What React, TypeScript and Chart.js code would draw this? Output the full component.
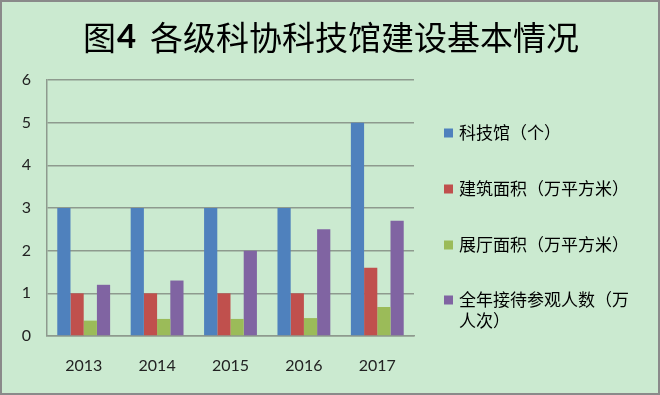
import React, { useEffect, useRef } from "react";
import { Chart, registerables } from "chart.js";

Chart.register(...registerables);

const TITLE_PARTS = ["图", "4", "各级科协科技馆建设基本情况"];
const YEARS = ["2013", "2014", "2015", "2016", "2017"];
const SERIES_NAMES = [
  "科技馆（个）",
  "建筑面积（万平方米）",
  "展厅面积（万平方米）",
  "全年接待参观人数（万人次）",
];
const LEGEND_LINES = [
  ["科技馆（个）"],
  ["建筑面积（万平方米）"],
  ["展厅面积（万平方米）"],
  ["全年接待参观人数（万", "人次）"],
];
const MUSEUMS = [3, 3, 3, 3, 5];
const BUILDING_AREA = [1, 1, 1, 1, 1.6];
const HALL_AREA = [0.36, 0.4, 0.4, 0.42, 0.68];
const VISITORS = [1.2, 1.3, 2, 2.5, 2.7];
const Y_TICKS = [0, 1, 2, 3, 4, 5, 6];
const COLORS = ["#4f81bd", "#c0504d", "#9bbb59", "#8064a2"];

const BG = "#cbead0";
const CJK = '"Noto Sans CJK SC", "Noto Sans", sans-serif';
const LATIN = 'Lato, "Open Sans", sans-serif';

const framePlugin = {
  id: "frame",
  beforeDraw(chart: any) {
    const ctx = chart.ctx;
    ctx.save();
    ctx.fillStyle = BG;
    ctx.fillRect(0, 0, chart.width, chart.height);
    ctx.strokeStyle = "#8a8a8a";
    ctx.lineWidth = 2;
    ctx.strokeRect(1, 1, chart.width - 2, chart.height - 2);
    ctx.restore();
  },
  afterDraw(chart: any) {
    const ctx = chart.ctx;
    ctx.save();
    // title, with a bold "4" and a word gap after it
    const fonts = [`33px ${CJK}`, `bold 33px ${LATIN}`, `33px ${CJK}`];
    const gaps = [1, 14, 0];
    const widths = TITLE_PARTS.map((t, i) => {
      ctx.font = fonts[i];
      return ctx.measureText(t).width + gaps[i];
    });
    const total = widths.reduce((a, b) => a + b, 0);
    let x = 331 - total / 2;
    ctx.fillStyle = "#000";
    ctx.textAlign = "left";
    ctx.textBaseline = "middle";
    TITLE_PARTS.forEach((t, i) => {
      ctx.font = fonts[i];
      ctx.fillText(t, x, 37);
      x += widths[i];
    });
    // legend
    const rows = [133, 189, 245, 300];
    ctx.font = `17px ${CJK}`;
    chart.data.datasets.forEach((ds: any, i: number) => {
      const y = rows[i];
      ctx.fillStyle = ds.backgroundColor;
      ctx.fillRect(444, y - 4.5, 9, 9);
      ctx.fillStyle = "#000";
      LEGEND_LINES[i].forEach((line, j) => {
        ctx.fillText(line, 459, y + j * 21);
      });
    });
    ctx.restore();
  },
};

export default function App() {
  const ref = useRef<HTMLCanvasElement | null>(null);
  useEffect(() => {
    document.body.style.margin = "0";
    const chart = new Chart(ref.current!, {
      type: "bar",
      data: {
        labels: YEARS,
        datasets: [MUSEUMS, BUILDING_AREA, HALL_AREA, VISITORS].map((d, i) => ({
          label: SERIES_NAMES[i],
          data: d,
          backgroundColor: COLORS[i],
          borderWidth: 0,
          categoryPercentage: 0.72,
          barPercentage: 1,
        })),
      },
      options: {
        animation: false,
        responsive: false,
        maintainAspectRatio: false,
        layout: { padding: { top: 80, right: 246, left: 0, bottom: 0 } },
        plugins: {
          legend: { display: false },
          title: { display: false },
          tooltip: { enabled: false },
        },
        scales: {
          x: {
            grid: { display: false, drawTicks: false },
            border: { display: true, color: "#8e9a8e", width: 1.5 },
            ticks: {
              color: "#222",
              font: { family: LATIN, size: 16 },
              padding: 20,
            },
            afterFit: (s: any) => {
              s.height = 59;
            },
          },
          y: {
            min: 0,
            max: 6,
            afterBuildTicks: (s: any) => {
              s.ticks = Y_TICKS.map((v) => ({ value: v }));
            },
            grid: {
              color: "#8e9a8e",
              lineWidth: 1.5,
              drawTicks: false,
            },
            border: { display: true, color: "#8e9a8e", width: 1.5 },
            ticks: {
              color: "#222",
              font: { family: LATIN, size: 16 },
              padding: 16,
            },
            afterFit: (s: any) => {
              s.width = 47;
            },
          },
        },
      },
      plugins: [framePlugin],
    });
    return () => chart.destroy();
  }, []);
  return (
    <div style={{ position: "fixed", left: 0, top: 0, width: 660, height: 395 }}>
      <canvas ref={ref} width={660} height={395} style={{ display: "block" }} />
    </div>
  );
}
